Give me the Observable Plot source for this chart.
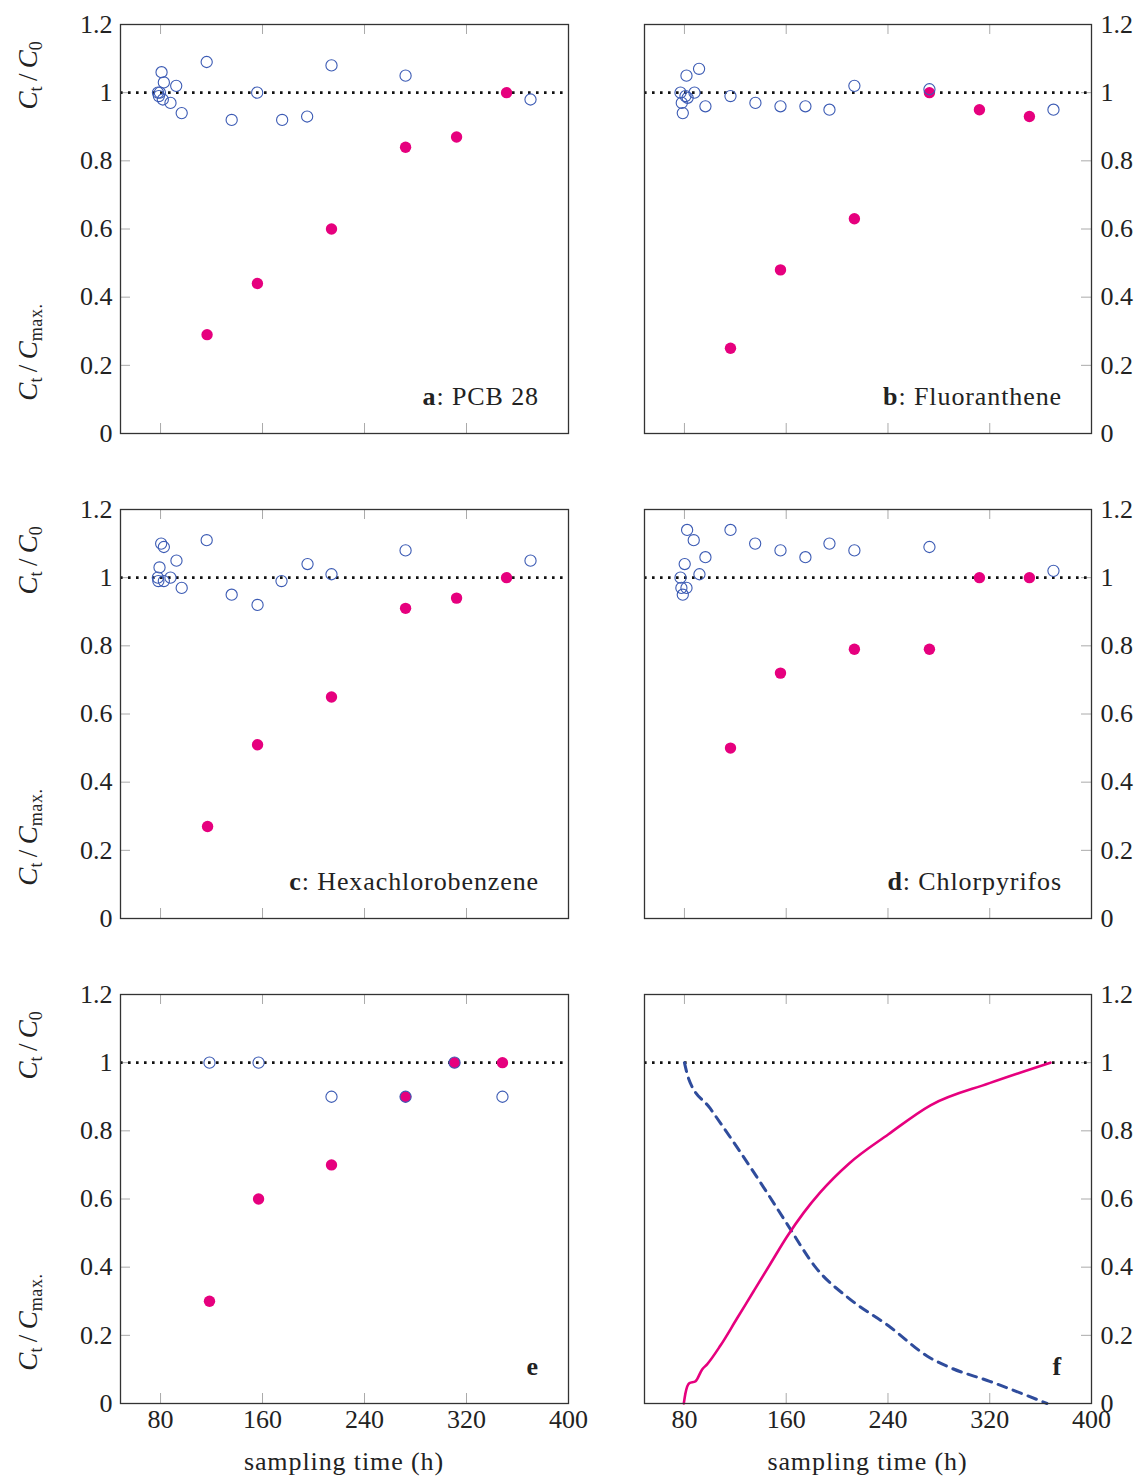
<!DOCTYPE html>
<html><head><meta charset="utf-8">
<script src="https://cdn.jsdelivr.net/npm/d3@7"></script>
<script src="https://cdn.jsdelivr.net/npm/@observablehq/plot@0.6"></script>
<style>
body{margin:0;background:#fff;}
#wrap{position:relative;width:1139px;height:1481px;font-family:"Liberation Serif",serif;}
#wrap svg{position:absolute;overflow:visible;}
</style></head><body><div id="wrap"></div>
<script>
const xTicks = [80, 160, 240, 320, 400];
const yTicks = [0, 0.2, 0.4, 0.6, 0.8, 1, 1.2];

// a: PCB 28
const pcbOpenTime  = [78, 79.5, 78.7, 80.8, 82.6, 81.8, 87.8, 92.3, 96.6, 116.2, 135.8, 155.8, 175.4, 195, 214.1, 272.2, 370.2];
const pcbOpenRatio = [1.00, 1.00, 0.99, 1.06, 1.03, 0.98, 0.97, 1.02, 0.94, 1.09, 0.92, 1.00, 0.92, 0.93, 1.08, 1.05, 0.98];
const pcbFillTime  = [116.5, 156, 214.1, 272.2, 312.2, 351.4];
const pcbFillRatio = [0.29, 0.44, 0.60, 0.84, 0.87, 1.00];

// b: Fluoranthene
const fluOpenTime  = [76.9, 81.6, 91.5, 80.8, 82.5, 87.9, 77.9, 78.7, 96.5, 116.2, 135.8, 155.5, 175.1, 194, 213.6, 272.6, 370.1];
const fluOpenRatio = [1.00, 1.05, 1.07, 0.99, 0.985, 1.00, 0.97, 0.94, 0.96, 0.99, 0.97, 0.96, 0.96, 0.95, 1.02, 1.01, 0.95];
const fluFillTime  = [116.2, 155.5, 213.6, 272.6, 311.9, 351.2];
const fluFillRatio = [0.25, 0.48, 0.63, 1.00, 0.95, 0.93];

// c: Hexachlorobenzene
const hcbOpenTime  = [80.5, 82.6, 79.2, 92.5, 116.2, 77.9, 78.3, 82.6, 87.8, 96.6, 135.8, 156.1, 174.9, 195.3, 214.1, 272.2, 370.2];
const hcbOpenRatio = [1.10, 1.09, 1.03, 1.05, 1.11, 1.00, 0.99, 0.99, 1.00, 0.97, 0.95, 0.92, 0.99, 1.04, 1.01, 1.08, 1.05];
const hcbFillTime  = [116.9, 156.1, 214.1, 272.2, 312.2, 351.4];
const hcbFillRatio = [0.27, 0.51, 0.65, 0.91, 0.94, 1.00];

// d: Chlorpyrifos
const chlOpenTime  = [82.1, 87.3, 96.5, 80.2, 91.8, 76.9, 77.6, 81.6, 78.7, 116.2, 135.6, 155.5, 175.1, 194, 213.6, 272.6, 370.1];
const chlOpenRatio = [1.14, 1.11, 1.06, 1.04, 1.01, 1.00, 0.97, 0.97, 0.95, 1.14, 1.10, 1.08, 1.06, 1.10, 1.08, 1.09, 1.02];
const chlFillTime  = [116.2, 155.5, 213.6, 272.6, 311.9, 351.2];
const chlFillRatio = [0.50, 0.72, 0.79, 0.79, 1.00, 1.00];

// e
const eOpenTime  = [118.4, 156.9, 214.1, 272.2, 310.6, 348.2];
const eOpenRatio = [1.00, 1.00, 0.90, 0.90, 1.00, 0.90];
const eFillTime  = [118.4, 156.9, 214.1, 272.2, 310.6, 348.2];
const eFillRatio = [0.30, 0.60, 0.70, 0.90, 1.00, 1.00];

// f: curves
const fRiseTime  = [79.5, 80.8, 83.9, 88.6, 93.9, 97.8, 108.3, 121.4, 134.5, 147.6, 160.7, 173.8, 186.9, 209.7, 240.4, 273.4, 319.8, 367.7];
const fRiseRatio = [0, 0.03, 0.06, 0.065, 0.10, 0.115, 0.17, 0.25, 0.33, 0.41, 0.49, 0.56, 0.62, 0.705, 0.79, 0.875, 0.94, 1.0];
const fFallTime  = [80, 83.1, 100.4, 121.7, 142.1, 161, 183, 210.5, 240.4, 272.6, 289.1, 320, 365];
const fFallRatio = [1.0, 0.955, 0.865, 0.75, 0.635, 0.525, 0.40, 0.305, 0.228, 0.135, 0.105, 0.065, 0];

const MAGENTA = "#e6007e", BLUE = "#3c5bb4", DASHBLUE = "#2f4c9c";
const FONT = "Liberation Serif, serif";
const wrap = document.getElementById("wrap");
const zip = (a, b) => a.map((t, i) => ({t, r: b[i]}));

function panel({col, row, openT, openR, fillT, fillR, rise, fall, letter, name}) {
  const left = col === 0;
  const bottom = row === 2;
  const W = left ? 600 : 539;
  const H = bottom ? 511 : 485;
  const mL = left ? 120 : 44, mR = left ? 32 : 48, mT = 24, mB = bottom ? 78 : 52;
  const fw = W - mL - mR, fh = H - mT - mB;
  const marks = [
    Plot.tickY(yTicks, {y: d => d, stroke: "#aaa", strokeWidth: 1, insetLeft: left ? 0 : fw - 10, insetRight: left ? fw - 10 : 0}),
    Plot.tickX(xTicks.slice(0, 4), {x: d => d, stroke: "#aaa", strokeWidth: 1, insetTop: fh - 10}),
    Plot.tickX(xTicks.slice(0, 4), {x: d => d, stroke: "#aaa", strokeWidth: 1, insetBottom: fh - 10}),
    Plot.axisY(yTicks, {anchor: left ? "left" : "right", tickSize: 0, tickPadding: left ? 8 : 9, tickFormat: d => `${d}`, label: null, fontSize: 26, fill: "#222"}),
    Plot.ruleY([1], {stroke: "#111", strokeWidth: 2.6, strokeDasharray: "2.6,5.4"})
  ];
  if (bottom) marks.push(Plot.axisX(xTicks, {anchor: "bottom", tickSize: 0, tickPadding: 6, tickFormat: d => `${d}`, label: null, fontSize: 26, fill: "#222"}));
  if (fillT) marks.push(Plot.dot(zip(fillT, fillR), {x: "t", y: "r", r: 5.7, fill: MAGENTA, stroke: null}));
  if (openT) marks.push(Plot.dot(zip(openT, openR), {x: "t", y: "r", r: 5.6, fill: "none", stroke: BLUE, strokeWidth: 1.1}));
  if (fall) marks.push(Plot.line(zip(fall[0], fall[1]), {x: "t", y: "r", stroke: DASHBLUE, strokeWidth: 3, strokeDasharray: "9,7", curve: "monotone-x"}));
  if (rise) marks.push(Plot.line(zip(rise[0], rise[1]), {x: "t", y: "r", stroke: MAGENTA, strokeWidth: 2.6, curve: "monotone-x"}));
  marks.push(Plot.frame({stroke: "#333", strokeWidth: 1.3}));

  const svg = Plot.plot({
    width: W, height: H,
    marginLeft: mL, marginRight: mR, marginTop: mT, marginBottom: mB,
    x: {domain: [48.6, 400], axis: null},
    y: {domain: [0, 1.2], axis: null},
    style: {fontFamily: FONT, fontSize: "26px", color: "#222", background: "transparent"},
    marks
  });
  svg.style.left = (left ? 0 : 600) + "px";
  svg.style.top = (row * 485) + "px";
  wrap.appendChild(svg);
  const s = d3.select(svg);

  // panel label
  const t = s.append("text")
    .attr("x", mL + fw - 29).attr("y", mT + fh - 28)
    .attr("text-anchor", "end").attr("font-family", FONT).attr("font-size", 26)
    .attr("letter-spacing", "0.9px").attr("fill", "#222");
  t.append("tspan").attr("font-weight", "bold").text(letter);
  if (name) t.append("tspan").text(": " + name);

  if (left) {
    const mk = (yc, sub) => {
      const tx = s.append("text")
        .attr("transform", `translate(37,${mT + yc}) rotate(-90)`)
        .attr("text-anchor", "middle").attr("font-family", FONT).attr("font-size", 27).attr("fill", "#222");
      tx.append("tspan").attr("font-style", "italic").text("C");
      tx.append("tspan").attr("font-size", 18).attr("dy", 5).text("t");
      tx.append("tspan").attr("dy", -5).text("\u2009/\u2009");
      tx.append("tspan").attr("font-style", "italic").text("C");
      tx.append("tspan").attr("font-size", 18).attr("dy", 5).attr("letter-spacing", "0.6px").text(sub);
    };
    mk(51, "0");
    mk(328, "max.");
  }
  if (bottom) {
    s.append("text").attr("x", mL + fw / 2).attr("y", H - 11)
      .attr("text-anchor", "middle").attr("font-family", FONT).attr("font-size", 26)
      .attr("letter-spacing", "0.9px").attr("fill", "#222")
      .text("sampling time (h)");
  }
}

panel({col: 0, row: 0, openT: pcbOpenTime, openR: pcbOpenRatio, fillT: pcbFillTime, fillR: pcbFillRatio, letter: "a", name: "PCB 28"});
panel({col: 1, row: 0, openT: fluOpenTime, openR: fluOpenRatio, fillT: fluFillTime, fillR: fluFillRatio, letter: "b", name: "Fluoranthene"});
panel({col: 0, row: 1, openT: hcbOpenTime, openR: hcbOpenRatio, fillT: hcbFillTime, fillR: hcbFillRatio, letter: "c", name: "Hexachlorobenzene"});
panel({col: 1, row: 1, openT: chlOpenTime, openR: chlOpenRatio, fillT: chlFillTime, fillR: chlFillRatio, letter: "d", name: "Chlorpyrifos"});
panel({col: 0, row: 2, openT: eOpenTime, openR: eOpenRatio, fillT: eFillTime, fillR: eFillRatio, letter: "e"});
panel({col: 1, row: 2, rise: [fRiseTime, fRiseRatio], fall: [fFallTime, fFallRatio], letter: "f"});
</script></body></html>
